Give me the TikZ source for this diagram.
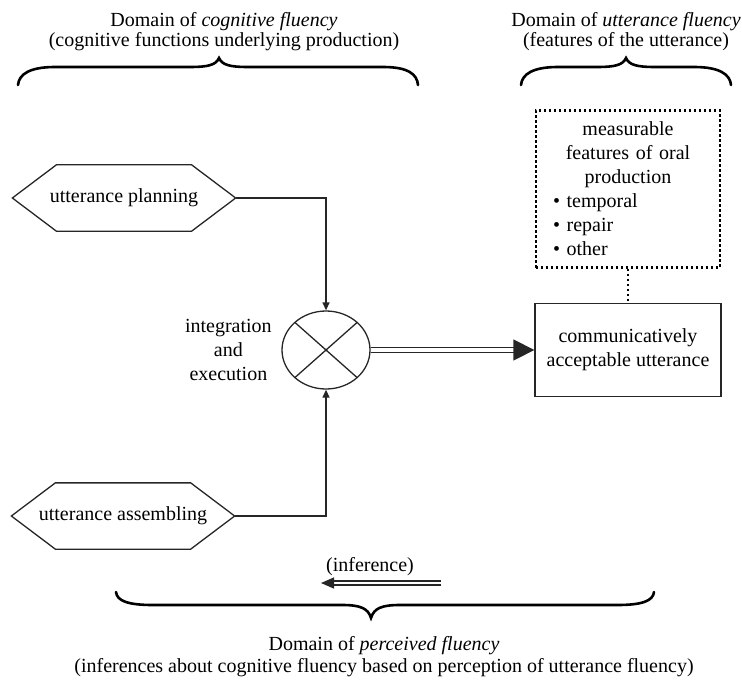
\documentclass[tikz,border=0pt]{standalone}
\usepackage{fontspec}
\setmainfont{Liberation Serif}
\usetikzlibrary{shapes.geometric, arrows.meta, positioning}

\begin{document}
\begin{tikzpicture}[
    x=0.5pt, y=-0.5pt,
    line width=0.65pt,
    hexbox/.style={rectangle, minimum width=111pt, minimum height=32.5pt, inner sep=0pt, align=center},
    hexline/.style={draw=black!85, line join=miter},
    mixer/.style={ellipse, draw=black!85, minimum width=44pt, minimum height=39pt, inner sep=0pt, path picture={\draw[black!85] (path picture bounding box.north west) -- (path picture bounding box.south east) (path picture bounding box.north east) -- (path picture bounding box.south west);}},
    outbox/.style={rectangle, draw=black!85, minimum width=93pt, minimum height=46.5pt, align=center},
    measbox/.style={rectangle, draw=black, line width=1.1pt, dash pattern=on 1.1pt off 1.4pt, minimum width=92pt, minimum height=78.5pt, text width=75pt, inner xsep=8.5pt},
    header/.style={align=center, inner sep=0pt, font=\fontsize{10}{10}\selectfont},
    arrow/.style={-{Triangle[length=4pt, width=3.5pt]}, draw=black!85},
    dblarrow/.style={draw=black!85, double=white, double distance=1.7pt, -{Triangle[length=10.5pt, width=10.5pt]}},
    infarrow/.style={draw=black!85, double=white, double distance=1.3pt, -{Triangle[length=6.5pt, width=5.5pt]}},
    dotline/.style={line width=1.1pt, dash pattern=on 1.1pt off 1.4pt},
    domainbrace/.style={line width=1.3pt, line cap=round}
]
\useasboundingbox (0,0) rectangle (742,679);
% Domains
\node[header] (cogdom) at (224,32) {Domain of \textit{cognitive fluency}\\(cognitive functions underlying production)};
\node[header] (uttdom) at (626,32) {Domain of \textit{utterance fluency}\\(features of the utterance)};
\node[header, font=\fontsize{10}{11}\selectfont] (percdom) at (384,657) {Domain of \textit{perceived fluency}\\(inferences about cognitive fluency based on perception of utterance fluency)};
% Braces
\draw[domainbrace] (18,85) .. controls (19,74) and (30,67) .. (55,67) -- (190,67) .. controls (208,67) and (216,65) .. (219,58) .. controls (222,65) and (230,67) .. (248,67) -- (383,67) .. controls (408,67) and (417,74) .. (418,85);
\draw[domainbrace] (521,85) .. controls (522,74) and (533,67) .. (558,67) -- (597,67) .. controls (615,67) and (623,65) .. (626,58) .. controls (629,65) and (637,67) .. (655,67) -- (694,67) .. controls (719,67) and (730,74) .. (731,85);
\draw[domainbrace] (116,592) .. controls (117,601) and (128,605) .. (153,605) -- (342,605) .. controls (360,605) and (368,608) .. (371,618) .. controls (374,608) and (382,605) .. (400,605) -- (617,605) .. controls (642,605) and (653,601) .. (654,592);
% Production
\node[hexbox] (plan) at (124,198) {utterance planning};
\draw[hexline] (plan.west) -- ([xshift=22pt]plan.north west) -- ([xshift=-22pt]plan.north east) -- (plan.east) -- ([xshift=-22pt]plan.south east) -- ([xshift=22pt]plan.south west) -- cycle;
\node[hexbox] (assem) at (123,516) {utterance assembling};
\draw[hexline] (assem.west) -- ([xshift=22pt]assem.north west) -- ([xshift=-22pt]assem.north east) -- (assem.east) -- ([xshift=-22pt]assem.south east) -- ([xshift=22pt]assem.south west) -- cycle;
\node[mixer] (mix) at (326,350) {};
\node[align=center, inner sep=0pt, left=4.5pt of mix] (integ) {integration\\and\\execution};
% Utterance
\node[outbox] (accept) at (628,350) {communicatively\\acceptable utterance};
\node[measbox] (meas) at (628,189) {\centering measurable\\features of oral\\production\par\raggedright\textbullet\ temporal\\\textbullet\ repair\\\textbullet\ other};
% Inference
\node[inner sep=0pt] (inflabel) at (370,567) {(inference)};
\coordinate (infstart) at (441,583);
\coordinate (infend) at (321,583);
% Arrows
\draw[arrow] (plan.east) -| (mix.north);
\draw[arrow] (assem.east) -| (mix.south);
\draw[dblarrow] (mix) -- (accept);
\draw[dotline] (meas) -- (accept);
\draw[infarrow] (infstart) -- (infend);
\end{tikzpicture}
\end{document}
